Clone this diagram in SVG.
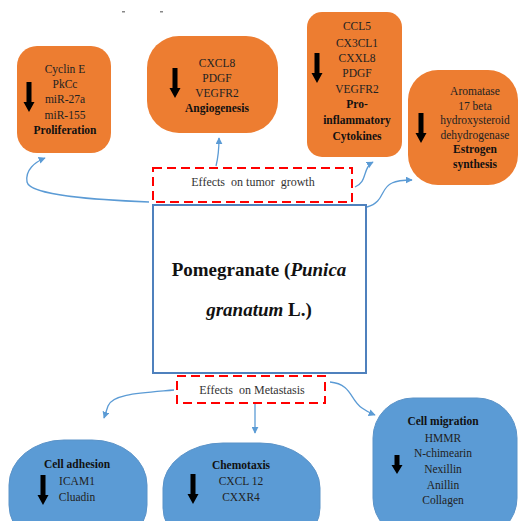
<svg xmlns="http://www.w3.org/2000/svg" width="519" height="521" viewBox="0 0 519 521" font-family="'Liberation Serif', 'Times New Roman', 'DejaVu Serif', serif">
<defs>
<style>
.org{fill:#ED7D31;}
.blu{fill:#5B9BD5;stroke:#5B93C8;stroke-width:1;}
.t{font-family:'Liberation Serif','Times New Roman','DejaVu Serif',serif;font-size:11.5px;fill:#222;text-anchor:middle;}
.b{font-weight:bold;fill:#111;}
.eff{font-family:'Liberation Serif','Times New Roman','DejaVu Serif',serif;font-size:12px;fill:#333;text-anchor:middle;}
.dash{fill:#fff;stroke:#FF0000;stroke-width:2;stroke-dasharray:9,5;}
.con{fill:none;stroke:#5B9BD5;stroke-width:1.3;}
.title{font-family:'Liberation Serif','Times New Roman','DejaVu Serif',serif;font-size:19px;font-weight:bold;fill:#111;text-anchor:middle;}
</style>
<path id="dn" d="M-2.5,0 H2.5 V20 H5.5 L0,30 L-5.5,20 H-2.5 Z" fill="#000"/>
<marker id="ah" viewBox="0 0 10 10" refX="9" refY="5" markerWidth="7" markerHeight="7" orient="auto" markerUnits="userSpaceOnUse">
<path d="M0,0 L10,5 L0,10 Z" fill="#5B9BD5"/>
</marker>
</defs>
<rect width="519" height="521" fill="#fff"/>
<rect x="122" y="11" width="3" height="1.5" fill="#888"/>
<rect x="160" y="11" width="3" height="1.5" fill="#888"/>

<g id="connectors">
<path class="con" marker-end="url(#ah)" d="M149,202 C100,200 30,196 27,182 C25,170 35,162 45,158"/>
<path class="con" marker-end="url(#ah)" d="M216,166 C218,158 219,148 219,138"/>
<path class="con" marker-end="url(#ah)" d="M355,187 C368,182 362,168 373,162"/>
<path class="con" marker-end="url(#ah)" d="M367,207 C385,202 380,188 392,183 C398,180 404,180 412,180"/>
<path class="con" marker-end="url(#ah)" d="M174,390 C140,393 112,394 108,406 L104,418"/>
<path class="con" marker-end="url(#ah)" d="M255,404 L255,433"/>
<path class="con" marker-end="url(#ah)" d="M330,382 C352,384 350,400 362,408 C366,411 370,413 375,415"/>
</g>

<g id="proliferation">
<rect class="org" x="17" y="46" width="94" height="107" rx="20"/>
<text class="t" x="65" y="73">Cyclin E</text>
<text class="t" x="65" y="88">PkCc</text>
<text class="t" x="65" y="103">miR-27a</text>
<text class="t" x="65" y="119">miR-155</text>
<text class="t b" x="65" y="134">Proliferation</text>
<use href="#dn" x="29" y="82"/>
</g>

<g id="angiogenesis">
<rect class="org" x="147" y="36" width="131" height="97" rx="32"/>
<text class="t" x="217" y="67">CXCL8</text>
<text class="t" x="217" y="82">PDGF</text>
<text class="t" x="217" y="97">VEGFR2</text>
<text class="t b" x="217" y="112">Angiogenesis</text>
<use href="#dn" x="175" y="68"/>
</g>

<g id="cytokines">
<rect class="org" x="307" y="12" width="95" height="145" rx="15"/>
<text class="t" x="357" y="30">CCL5</text>
<text class="t" x="357" y="47">CX3CL1</text>
<text class="t" x="357" y="62">CXXL8</text>
<text class="t" x="357" y="77">PDGF</text>
<text class="t" x="357" y="93">VEGFR2</text>
<text class="t b" x="357" y="108">Pro-</text>
<text class="t b" x="357" y="124">inflammatory</text>
<text class="t b" x="357" y="140">Cytokines</text>
<use href="#dn" x="317" y="53"/>
</g>

<g id="estrogen">
<rect class="org" x="408" y="70" width="110" height="115" rx="30"/>
<text class="t" x="475" y="95">Aromatase</text>
<text class="t" x="475" y="110">17 beta</text>
<text class="t" x="475" y="124">hydroxysteroid</text>
<text class="t" x="475" y="139">dehydrogenase</text>
<text class="t b" x="475" y="153">Estrogen</text>
<text class="t b" x="475" y="168">synthesis</text>
<use href="#dn" x="421" y="113"/>
</g>

<g id="effects-tumor">
<rect class="dash" x="153" y="168" width="199" height="34"/>
<text class="eff" x="253" y="186" xml:space="preserve">Effects  on tumor  growth</text>
</g>

<g id="pomegranate">
<rect x="153" y="205" width="213" height="168" fill="#fff" stroke="#4F81BD" stroke-width="2"/>
<text class="title" x="259" y="276">Pomegranate (<tspan font-style="italic">Punica</tspan></text>
<text class="title" x="259" y="316"><tspan font-style="italic">granatum</tspan> L.)</text>
</g>

<g id="effects-metastasis">
<rect class="dash" x="177" y="376" width="148" height="27"/>
<text class="eff" x="252" y="394" xml:space="preserve">Effects  on Metastasis</text>
</g>

<g id="cell-adhesion">
<rect class="blu" x="9" y="440" width="138" height="110" rx="55" ry="45"/>
<text class="t b" x="77" y="468">Cell adhesion</text>
<text class="t" x="77" y="485">ICAM1</text>
<text class="t" x="77" y="501">Cluadin</text>
<use href="#dn" x="43" y="475"/>
</g>

<g id="chemotaxis">
<rect class="blu" x="163" y="443" width="157" height="110" rx="60" ry="45"/>
<text class="t b" x="241" y="469">Chemotaxis</text>
<text class="t" x="241" y="485">CXCL 12</text>
<text class="t" x="241" y="501">CXXR4</text>
<use href="#dn" x="193" y="474"/>
</g>

<g id="cell-migration">
<rect class="blu" x="373" y="398" width="144" height="140" rx="40"/>
<text class="t b" x="443" y="425">Cell migration</text>
<text class="t" x="443" y="442">HMMR</text>
<text class="t" x="443" y="457">N-chimearin</text>
<text class="t" x="443" y="473">Nexillin</text>
<text class="t" x="443" y="489">Anillin</text>
<text class="t" x="443" y="504">Collagen</text>
<path d="M394.5,455 H399.5 V465 H402.5 L397,474 L391.5,465 H394.5 Z" fill="#000"/>
</g>
</svg>
